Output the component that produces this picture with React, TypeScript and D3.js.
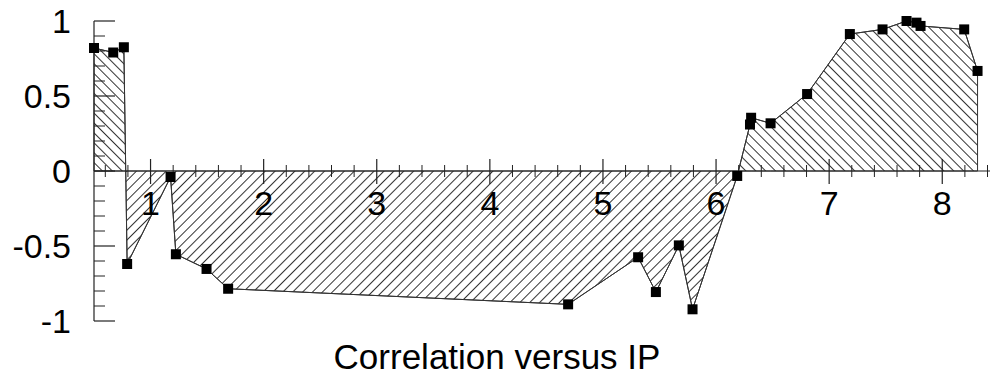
import React from "react";
import * as d3 from "d3";

// Correlation samples along IP
const ipValues = [0.5, 0.67, 0.764, 0.793, 1.177, 1.224, 1.495, 1.686, 4.692, 5.311, 5.468, 5.671, 5.792, 6.187, 6.3, 6.31, 6.482, 6.805, 7.183, 7.472, 7.684, 7.772, 7.808, 8.194, 8.312];
const correlationValues = [0.82, 0.79, 0.825, -0.62, -0.04, -0.555, -0.653, -0.785, -0.889, -0.575, -0.807, -0.496, -0.922, -0.033, 0.31, 0.355, 0.318, 0.513, 0.913, 0.944, 1.0, 0.989, 0.967, 0.944, 0.667];

const xTickLabels = [1, 2, 3, 4, 5, 6, 7, 8];
const yTickLabels = [1, 0.5, 0, -0.5, -1];
const titleText = "Correlation versus IP";

const W = 992;
const H = 383;
const INK = "#222";

export default function App() {
  const x = d3.scaleLinear().domain([0.5, 8.4]).range([94, 987.5]);
  const y = d3.scaleLinear().domain([-1, 1]).range([321, 21]);

  const pts = ipValues.map((v, i) => [v, correlationValues[i]] as [number, number]);

  const line = d3
    .line<[number, number]>()
    .x((d) => x(d[0]))
    .y((d) => y(d[1]));
  const area = d3
    .area<[number, number]>()
    .x((d) => x(d[0]))
    .y0(y(0))
    .y1((d) => y(d[1]));

  const x0 = x.range()[0];
  const zeroY = y(0);

  const minorX = d3.range(6, 85, 2).map((v) => v / 10).filter((v) => Math.abs(v - Math.round(v)) > 1e-6);
  const minorY = d3.range(-10, 11, 1).map((v) => v / 10).filter((v) => Math.abs(v * 2 - Math.round(v * 2)) > 1e-6);

  const fontFamily = "'Liberation Sans', Arial, sans-serif";

  return (
    <svg width={W} height={H} style={{ position: "absolute", left: 0, top: 0, background: "#fff" }}>
      <defs>
        <pattern id="hatchPos" width="7" height="7" patternUnits="userSpaceOnUse" patternTransform="rotate(-45)">
          <line x1="0.5" y1="0" x2="0.5" y2="7" stroke="#333" strokeWidth="1" />
        </pattern>
        <pattern id="hatchNeg" width="7" height="7" patternUnits="userSpaceOnUse" patternTransform="rotate(45)">
          <line x1="0.5" y1="0" x2="0.5" y2="7" stroke="#333" strokeWidth="1" />
        </pattern>
        <clipPath id="clipPos">
          <rect x={0} y={0} width={W} height={zeroY} />
        </clipPath>
        <clipPath id="clipNeg">
          <rect x={0} y={zeroY} width={W} height={H - zeroY} />
        </clipPath>
      </defs>

      <rect x={0} y={0} width={W} height={H} fill="#fff" />

      {/* hatched area between the curve and zero */}
      <path d={area(pts) ?? ""} fill="url(#hatchPos)" clipPath="url(#clipPos)" />
      <path d={area(pts) ?? ""} fill="url(#hatchNeg)" clipPath="url(#clipNeg)" />
      <path d={area(pts) ?? ""} fill="none" stroke="#333" strokeWidth={1} />
      <path d={line(pts) ?? ""} fill="none" stroke="#333" strokeWidth={1} />

      {/* y axis */}
      <line x1={x0} x2={x0} y1={y(1)} y2={y(-1)} stroke={INK} strokeWidth={1.2} />
      {yTickLabels.map((v) => (
        <line key={"ym" + v} x1={x0} x2={x0 + 21} y1={y(v)} y2={y(v)} stroke={INK} strokeWidth={1.2} />
      ))}
      {minorY.map((v) => (
        <line key={"yn" + v} x1={x0} x2={x0 + 11} y1={y(v)} y2={y(v)} stroke={INK} strokeWidth={1} />
      ))}
      {yTickLabels.map((v) => (
        <text
          key={"yl" + v}
          x={71}
          y={y(v)}
          dy="0.36em"
          textAnchor="end"
          fontFamily={fontFamily}
          fontSize={34}
          fill="#000"
        >
          {v}
        </text>
      ))}

      {/* x axis along zero */}
      <line x1={x0} x2={990} y1={zeroY} y2={zeroY} stroke={INK} strokeWidth={1.2} />
      {xTickLabels.map((v) => (
        <line key={"xm" + v} x1={x(v)} x2={x(v)} y1={zeroY - 12} y2={zeroY + 13} stroke={INK} strokeWidth={1.2} />
      ))}
      {minorX.map((v) => (
        <line key={"xn" + v} x1={x(v)} x2={x(v)} y1={zeroY - 6} y2={zeroY + 6} stroke={INK} strokeWidth={1} />
      ))}
      {xTickLabels.map((v) => (
        <text
          key={"xl" + v}
          x={x(v)}
          y={203}
          dy="0.36em"
          textAnchor="middle"
          fontFamily={fontFamily}
          fontSize={34}
          fill="#000"
        >
          {v}
        </text>
      ))}

      {/* markers */}
      {pts.map((d, i) => (
        <rect key={"m" + i} x={x(d[0]) - 5} y={y(d[1]) - 5} width={10} height={10} fill="#000" />
      ))}

      <text
        x={497}
        y={356}
        dy="0.36em"
        textAnchor="middle"
        fontFamily={fontFamily}
        fontSize={35}
        fill="#000"
      >
        {titleText}
      </text>
    </svg>
  );
}
